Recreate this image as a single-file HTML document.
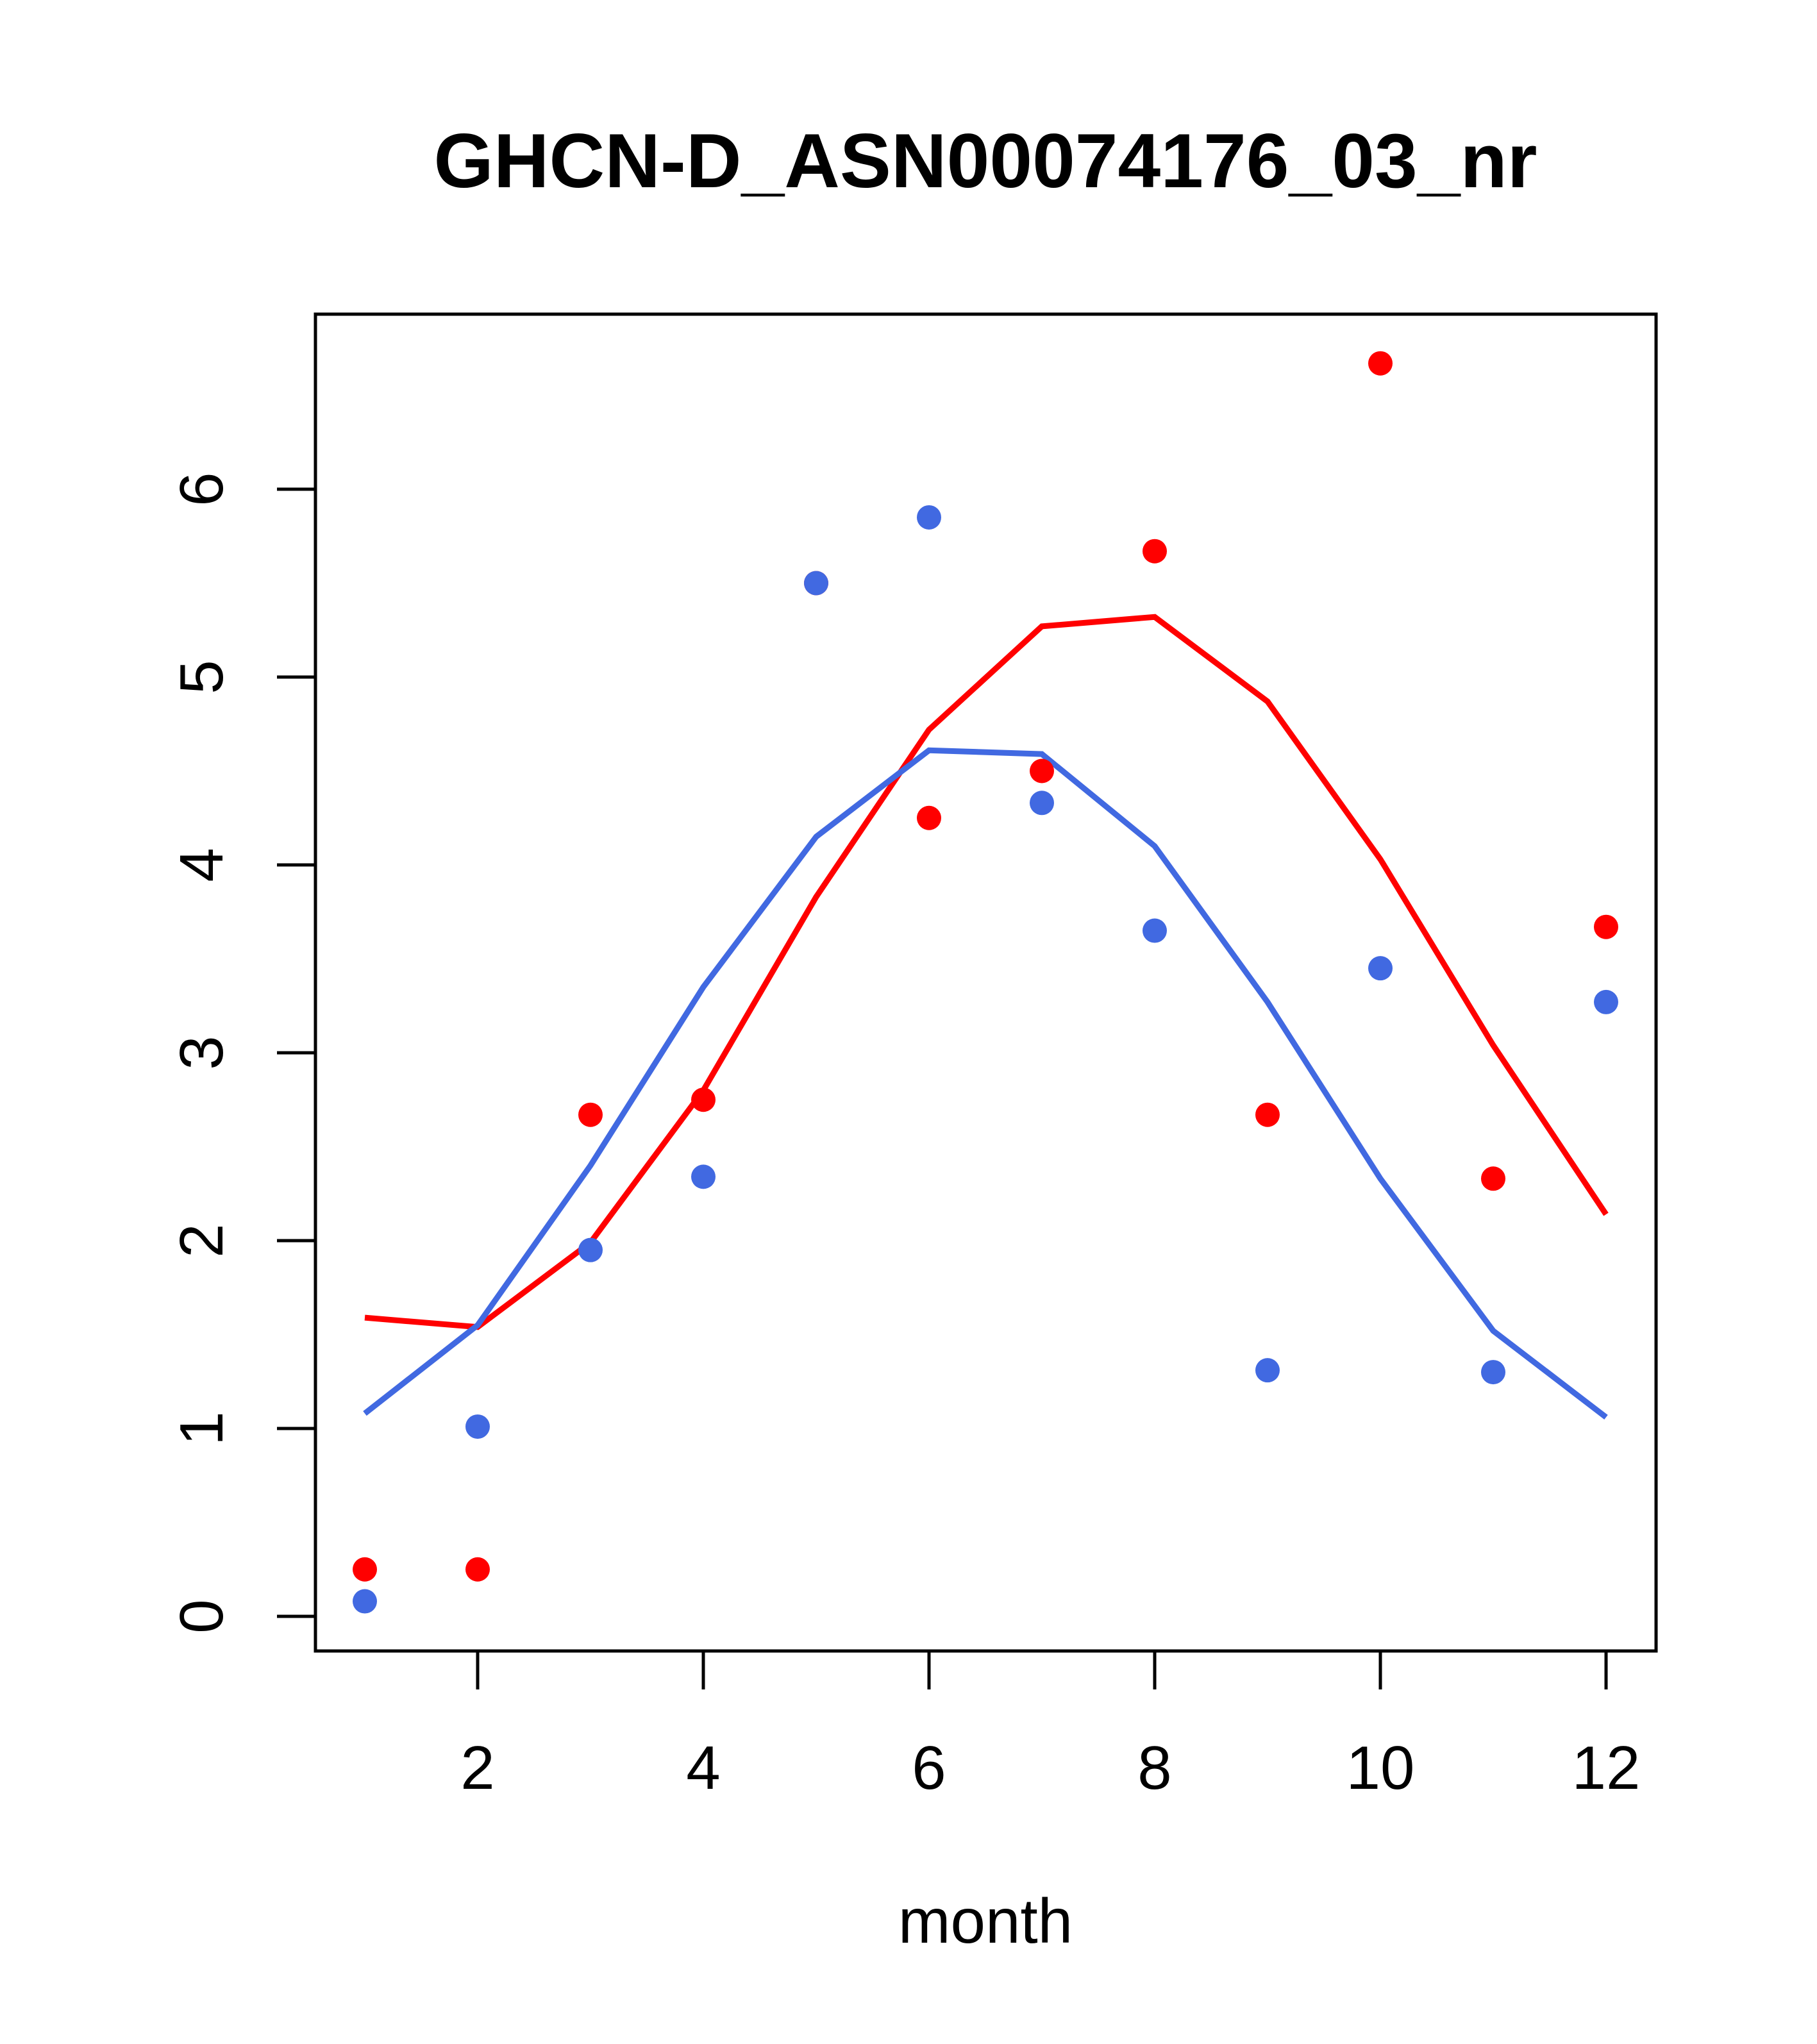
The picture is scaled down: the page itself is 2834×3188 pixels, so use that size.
<!DOCTYPE html>
<html><head><meta charset="utf-8"><style>html,body{margin:0;padding:0;background:#fff}svg{display:block}text{font-family:"Liberation Sans",sans-serif}</style></head>
<body>
<svg id="chart" width="2834" height="3188" viewBox="0 0 2834 3188" xmlns="http://www.w3.org/2000/svg">
<rect width="2834" height="3188" fill="#fff"/>
<text x="1537" y="292" font-size="120" font-weight="bold" text-anchor="middle">GHCN-D_ASN00074176_03_nr</text>
<rect x="492" y="490" width="2091" height="2085" fill="none" stroke="#000" stroke-width="5"/>
<text x="1537" y="3030" font-size="98" text-anchor="middle">month</text>
<g id="axes"></g><g id="lines"></g><g id="points"></g>
</svg>
<script>
const months=[1,2,3,4,5,6,7,8,9,10,11,12];
const redPoints=[0.25,0.25,2.67,2.75,5.5,4.25,4.5,5.67,2.67,6.67,2.33,3.67];
const bluePoints=[0.08,1.01,1.95,2.34,5.5,5.85,4.33,3.65,1.31,3.45,1.3,3.27];
const redLine=[1.59,1.54,1.99,2.8,3.83,4.72,5.27,5.32,4.87,4.03,3.04,2.14];
const blueLine=[1.08,1.55,2.4,3.35,4.15,4.61,4.59,4.1,3.27,2.33,1.52,1.06];
const xTicks=[2,4,6,8,10,12];
const yTicks=[0,1,2,3,4,5,6];
const NS="http://www.w3.org/2000/svg";
function sx(m){return 569+(m-1)*176;}
function sy(v){return 2521-v*293;}
function mk(t,a){const e=document.createElementNS(NS,t);for(const k in a)e.setAttribute(k,a[k]);return e;}
const axes=document.getElementById('axes');
xTicks.forEach(t=>{
 const l=mk('line',{x1:sx(t),x2:sx(t),y1:2575,y2:2635,stroke:'#000','stroke-width':5});
 
 
 axes.appendChild(l);
 const tx=mk('text',{x:sx(t),y:2790,'font-size':96,'text-anchor':'middle'});
 tx.textContent=t;
 
 
 axes.appendChild(tx);
});
yTicks.forEach(t=>{
 const l=mk('line',{x1:432,x2:492,y1:sy(t),y2:sy(t),stroke:'#000','stroke-width':5});
 
 
 axes.appendChild(l);
 const tx=mk('text',{x:0,y:0,'font-size':96,'text-anchor':'middle',transform:`translate(347,${sy(t)}) rotate(-90)`});
 tx.textContent=t;
 
 
 axes.appendChild(tx);
});
const lines=document.getElementById('lines');
[[redLine,'#ff0000','red-fit-line'],[blueLine,'#4169e1','blue-fit-line']].forEach(([d,c,n])=>{
 const p=mk('polyline',{points:d.map((v,i)=>sx(months[i])+','+sy(v)).join(' '),fill:'none',stroke:c,'stroke-width':9});
 
 
 lines.appendChild(p);
});
const pts=document.getElementById('points');
[[redPoints,'#ff0000','red-point'],[bluePoints,'#4169e1','blue-point']].forEach(([d,c,n])=>{
 d.forEach((v,i)=>{
  const e=mk('circle',{cx:sx(months[i]),cy:sy(v),r:19,fill:c});
  
  
  pts.appendChild(e);
 });
});
</script>
</body></html>
